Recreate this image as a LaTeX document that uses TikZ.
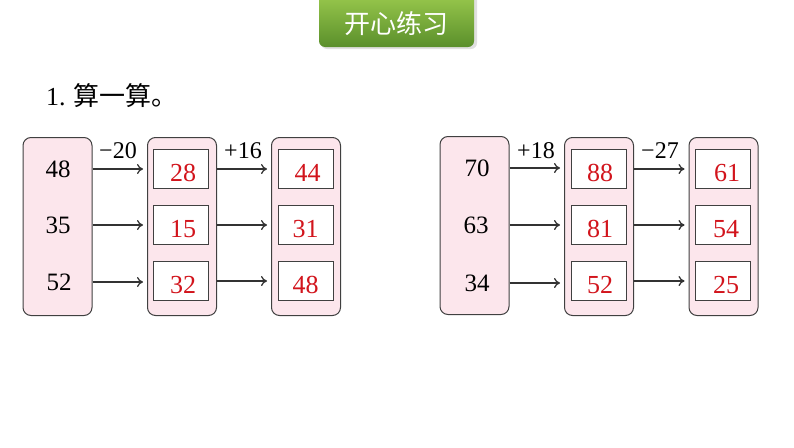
\documentclass[tikz,border=0pt]{standalone}
\usepackage{fontspec}
\setmainfont{Liberation Serif}
\newfontfamily\cjk{Noto Sans CJK SC}
\usetikzlibrary{arrows.meta,positioning,calc}
\definecolor{pinkfill}{HTML}{FCE6EC}
\definecolor{boxline}{HTML}{404040}
\definecolor{numred}{HTML}{D2141C}
\definecolor{gtop}{HTML}{9CCB4E}
\definecolor{gbot}{HTML}{5A8F2B}
\tikzset{
  colbox/.style={draw=boxline, line width=1pt, fill=pinkfill, rounded corners=8pt,
    minimum width=69pt, minimum height=178pt, inner sep=0pt},
  ansbox/.style={draw=boxline, line width=1pt, fill=white,
    minimum width=55pt, minimum height=39pt, inner sep=0pt},
  red/.style={text=numred, font=\fontsize{26}{26}\selectfont, inner sep=0pt},
  num/.style={font=\fontsize{25}{25}\selectfont, text=black, inner sep=0pt},
  oplabel/.style={font=\fontsize{24}{24}\selectfont, inner sep=0pt},
  arr/.style={draw=boxline!80!black, line width=1.3pt, -{To[length=6pt,width=10pt]}, shorten >=4pt},
}
\begin{document}
\begin{tikzpicture}[x=1pt,y=-1pt]
\useasboundingbox (0,0) rectangle (794,447);
% banner
\fill[black!12, rounded corners=6pt] (321,-8) rectangle (477,49);
\shade[top color=gtop, bottom color=gbot, rounded corners=6pt] (319,-8) rectangle (474,47);
\node[text=white, font=\cjk\fontsize{26}{26}\selectfont] (banner) at (396.5,24) {开心练习};
% heading
\node[anchor=west, font=\fontsize{26}{26}\selectfont, inner sep=0pt] (head) at (46,96) {1.\hspace{8pt}{\cjk 算一算。}};

% ===== group 1 =====
\node[colbox] (L1) at (57.5,226.5) {};
\node[colbox] (M1) at (182,226.5) {};
\node[colbox] (R1) at (306,226.5) {};
\node[num] (a1) at (58,169) {48};
\node[num] (a2) at (58,225) {35};
\node[num] (a3) at (59,282) {52};
\node[ansbox] (b1) at (181,169) {};
\node[ansbox] (b2) at (181,225) {};
\node[ansbox] (b3) at (181,281) {};
\node[ansbox] (c1) at (305.5,169) {};
\node[ansbox] (c2) at (305.5,225) {};
\node[ansbox] (c3) at (305.5,281) {};
\node[red] at ($(b1)+(2,4)$) {28};
\node[red] at ($(b2)+(2,4)$) {15};
\node[red] at ($(b3)+(2,4)$) {32};
\node[red] at ($(c1)+(2,4)$) {44};
\node[red] at ($(c2)+(0,4)$) {31};
\node[red] at ($(c3)+(0,4)$) {48};
\foreach \i in {1,2,3}{
  \draw[arr] (a\i -| L1.east) -- (a\i -| M1.west);
  \draw[arr] (b\i -| M1.east) -- (b\i -| R1.west);
}
\node[oplabel] (op1) at (118,151) {−20};
\node[oplabel] (op2) at (243,151) {+16};

% ===== group 2 =====
\node[colbox] (L2) at (474.5,225.5) {};
\node[colbox] (M2) at (599,226.5) {};
\node[colbox] (R2) at (723.5,226.5) {};
\node[num] (d1) at (477,168) {70};
\node[num] (d2) at (476,225) {63};
\node[num] (d3) at (477,283) {34};
\node[ansbox] (e1) at (599,169) {};
\node[ansbox] (e2) at (599,225) {};
\node[ansbox] (e3) at (599,281) {};
\node[ansbox] (f1) at (723,169) {};
\node[ansbox] (f2) at (723,225) {};
\node[ansbox] (f3) at (723,281) {};
\node[red] at ($(e1)+(1,4)$) {88};
\node[red] at ($(e2)+(1,4)$) {81};
\node[red] at ($(e3)+(1,4)$) {52};
\node[red] at ($(f1)+(4,4)$) {61};
\node[red] at ($(f2)+(3,4)$) {54};
\node[red] at ($(f3)+(3,4)$) {25};
\foreach \i in {1,2,3}{
  \draw[arr] (d\i -| L2.east) -- (d\i -| M2.west);
  \draw[arr] (e\i -| M2.east) -- (e\i -| R2.west);
}
\node[oplabel] (op3) at (536,151) {+18};
\node[oplabel] (op4) at (660,151) {−27};
\end{tikzpicture}
\end{document}
